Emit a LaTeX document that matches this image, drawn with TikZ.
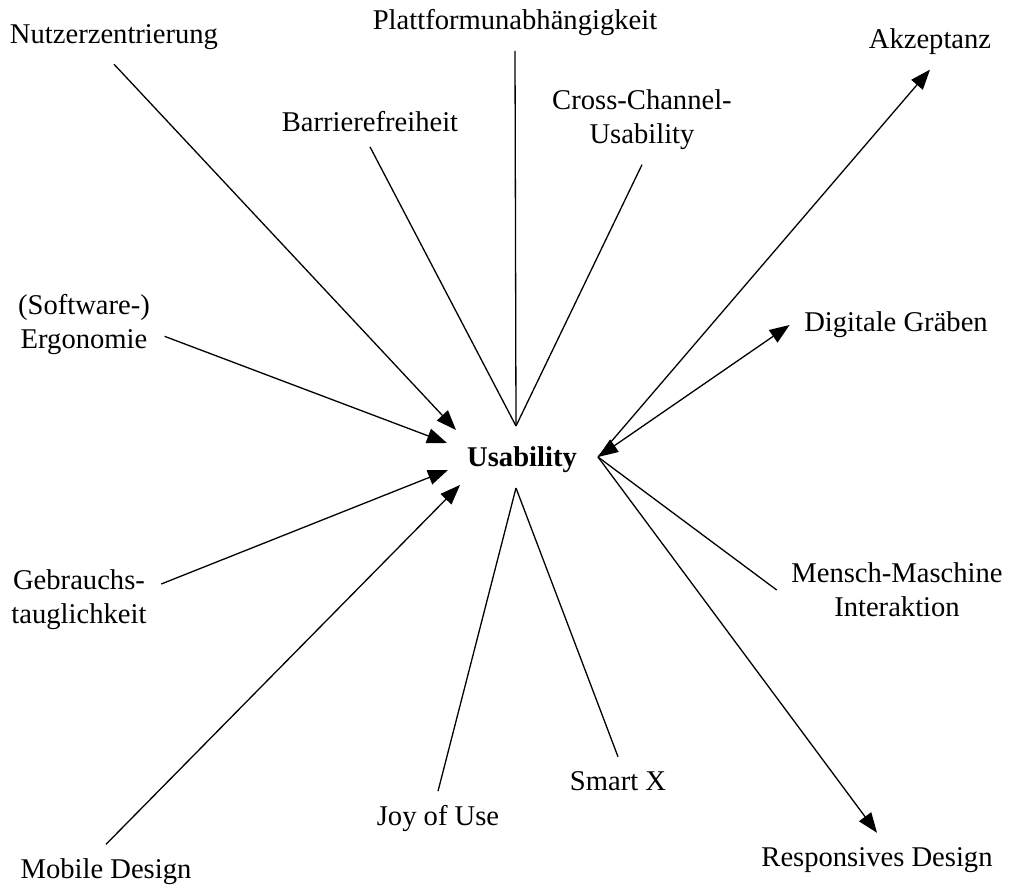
\documentclass[tikz,border=0pt]{standalone}
\usepackage{fontspec}
\setmainfont{Liberation Serif}
\usetikzlibrary{arrows.meta}

\begin{document}
\begin{tikzpicture}[x=0.5pt,y=-0.5pt,
    >={Triangle[length=10pt,width=7.5pt]},
    line width=0.65pt,
    term/.style={align=center,font=\fontsize{14.3}{17}\selectfont,outer sep=4pt},
    hub/.style={term,font=\fontsize{14.3}{17}\selectfont\bfseries}]
    \useasboundingbox (0,0) rectangle (1011,892);

    \node[hub] (Usab) at (522,460) {Usability};
    \coordinate (UsabN) at (516,426);
    \coordinate (UsabS) at (516,488);
    \coordinate (UsabE) at (598,457);
    \coordinate (UsabNW) at (456,430);
    \coordinate (UsabWNW) at (447,443);
    \coordinate (UsabWSW) at (448,470);
    \coordinate (UsabSW) at (460,485);

    \node[term] (Nutzer) at (114,37) {Nutzerzentrierung};
    \node[term] (Platt) at (515,23) {Plattformunabhängigkeit};
    \node[term] (Barr) at (370,122) {Barrierefreiheit};
    \node[term] (Cross) at (642,120) {Cross-Channel-\\Usability};
    \node[term] (Akz) at (930,42) {Akzeptanz};
    \node[term] (Digi) at (896,325) {Digitale Gräben};
    \node[term] (Ergo) at (84,325) {(Software-)\\Ergonomie};
    \node[term] (Gebr) at (79,600) {Gebrauchs-\\tauglichkeit};
    \node[term] (Mensch) at (897,590) {Mensch-Maschine\\Interaktion};
    \node[term] (Mobile) at (106,872) {Mobile Design};
    \node[term] (Joy) at (438,819) {Joy of Use};
    \node[term] (Smart) at (618,781) {Smart X};
    \node[term] (Resp) at (877,860) {Responsives Design};

    \draw[->] (Nutzer.south) to (UsabNW);
    \draw[->] (Ergo.-8) to (UsabWNW);
    \draw[->] (Gebr.11) to (UsabWSW);
    \draw[->] (Mobile.north) to (UsabSW);

    \draw (Platt.south) to (UsabN);
    \draw (Barr.south) to (UsabN);
    \draw (Cross.south) to (UsabN);

    \draw (Joy.north) to (UsabS);
    \draw (Smart.north) to (UsabS);

    \draw[->] (UsabE) to (Akz.south);
    \draw[<->] (UsabE) to (Digi.west);
    \draw (Mensch.west) to (UsabE);
    \draw[->] (UsabE) to (Resp.north);

\end{tikzpicture}
\end{document}
